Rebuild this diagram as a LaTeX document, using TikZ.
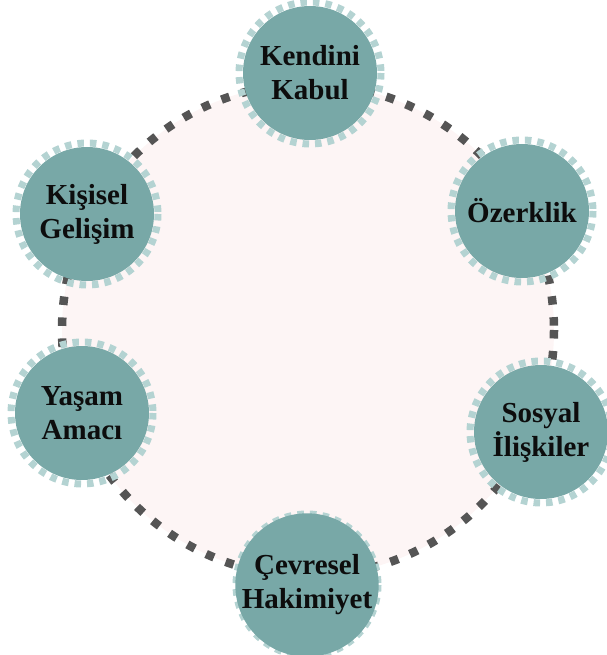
\documentclass[tikz,border=0pt]{standalone}
\usepackage{fontspec}
\setmainfont{Liberation Serif}
\definecolor{ringfill}{HTML}{FDF5F5}
\definecolor{ringline}{HTML}{555555}
\definecolor{tealfill}{HTML}{78A8A7}
\definecolor{tealdash}{HTML}{B4D3D2}
\definecolor{labeltext}{HTML}{0D0D0D}
\begin{document}
\begin{tikzpicture}[x=1pt,y=-1pt,
  ring/.style={fill=ringfill, draw=ringline, line width=8.5pt, dash pattern=on 8.5pt off 12.5pt},
  facet/.style={circle, minimum size=134pt, inner sep=0pt, fill=tealfill,
    text=labeltext, font=\fontsize{29}{34}\selectfont\bfseries, align=center},
  facetedge/.style={draw=tealdash, line width=7pt, dash pattern=on 6.5pt off 6pt}]
  \useasboundingbox (0,0) rectangle (606,655);
  % central ring
  \draw[ring] (308,330) circle[radius=246];
  % six dimensions
  \foreach \name/\x/\y/\txt in {
      kabul/310/73/{Kendini\\Kabul},
      ozerk/522/211/{Özerklik},
      sosyal/541/432/{Sosyal\\İlişkiler},
      cevre/307/585/{Çevresel\\Hakimiyet},
      amac/82/413/{Yaşam\\Amacı},
      gelisim/87/214/{Kişisel\\Gelişim}} {
    \draw[facetedge] (\x,\y) circle[radius=71];
    \node[facet] (\name) at (\x,\y) {\txt};
  }
\end{tikzpicture}
\end{document}
